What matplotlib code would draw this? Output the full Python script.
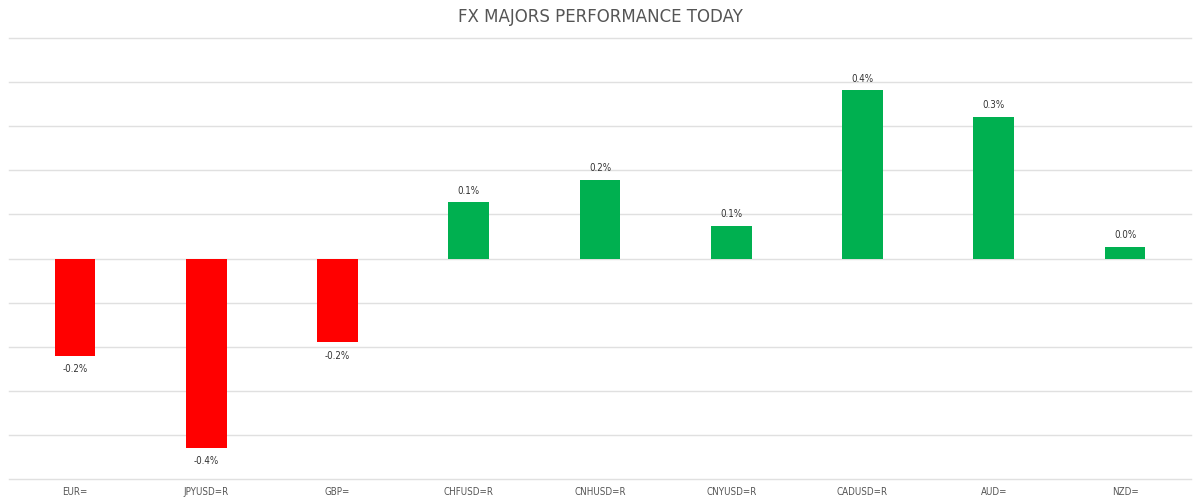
import matplotlib
matplotlib.use("Agg")
import matplotlib.pyplot as plt

categories = ["EUR=", "JPYUSD=R", "GBP=", "CHFUSD=R", "CNHUSD=R", "CNYUSD=R", "CADUSD=R", "AUD=", "NZD="]
values = [-0.22, -0.43, -0.19, 0.127, 0.177, 0.073, 0.381, 0.32, 0.027]

plt.rcParams['font.family'] = ['DejaVu Sans']

fig = plt.figure(figsize=(12, 5.03), dpi=100)
ax = fig.add_axes([9.3/1200, 1 - 479/503, (1190.7 - 9.3)/1200, (479 - 38)/503])

colors = ["#FF0000" if v < 0 else "#00B050" for v in values]
x = list(range(len(categories)))
ax.bar(x, values, width=0.31, color=colors, zorder=3)

ax.set_xlim(-0.5, len(categories) - 0.5)
ax.set_ylim(-0.5, 0.5)
ax.set_yticks([i / 10 for i in range(-5, 6)])
ax.set_yticklabels([])
ax.yaxis.grid(True, color="#e0e0e0", linewidth=1)
for gl in ax.get_ygridlines():
    gl.set_clip_on(False)
ax.set_axisbelow(True)
ax.tick_params(axis="y", length=0)
ax.tick_params(axis="x", length=0, pad=6, labelsize=7, labelcolor="#555555")
ax.set_xticks(x)
ax.set_xticklabels(categories, fontstretch="condensed")
for s in ax.spines.values():
    s.set_visible(False)

for xi, v in zip(x, values):
    if v >= 0:
        ax.annotate(f"{v:.1f}%", (xi, v), xytext=(0, 5), textcoords="offset points",
                    ha="center", va="bottom", fontsize=7, color="#333333", fontstretch="condensed")
    else:
        ax.annotate(f"{v:.1f}%", (xi, v), xytext=(0, -6), textcoords="offset points",
                    ha="center", va="top", fontsize=7, color="#333333", fontstretch="condensed")

fig.text(0.5, 1 - 17/503, "FX MAJORS PERFORMANCE TODAY", ha="center", va="center",
         fontsize=12, color="#555555")

fig.savefig("out.png", dpi=100, facecolor="white")
